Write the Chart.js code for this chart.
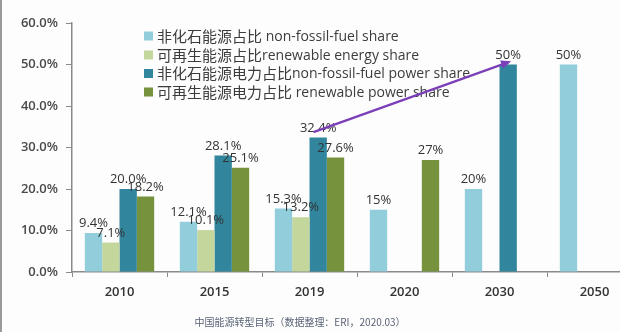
<!DOCTYPE html>
<html>
<head>
<meta charset="utf-8">
<script src="https://cdn.jsdelivr.net/npm/chart.js@4.4.1/dist/chart.umd.min.js"></script>
<style>
  html, body { margin: 0; padding: 0; background: #fdfdfd; }
  #wrap { position: relative; width: 620px; height: 332px; overflow: hidden; }
  #wrap::before { content: ""; position: absolute; left: 0; top: 0; width: 2px; height: 332px; background: #9a9a9a; z-index: 2; }
  #chart { position: absolute; left: 0; top: 0; }
</style>
</head>
<body>
<div id="wrap"><canvas id="chart" width="642" height="332"></canvas></div>
<script>
// Years on the x axis
const years = ["2010", "2015", "2019", "2020", "2030", "2050"];
// digits shown in the value labels for each year
const labelDecimals = [1, 1, 1, 0, 0, 0];

// Shares in percent (null = no bar)
const nonFossilShare = [9.4, 12.1, 15.3, 15, 20, 50];
const renewableShare = [7.1, 10.1, 13.2, null, null, null];
const nonFossilPowerShare = [20.0, 28.1, 32.4, null, 50, null];
const renewablePowerShare = [18.2, 25.1, 27.6, 27, null, null];

const seriesNames = [
  ["非化石能源占比", " non-fossil-fuel share"],
  ["可再生能源占比", "renewable energy share"],
  ["非化石能源电力占比", "non-fossil-fuel power share"],
  ["可再生能源电力占比", " renewable power share"],
];
const seriesColors = ["#92cddc", "#c3d69b", "#31859c", "#76923c"];

const yTicks = [0, 10, 20, 30, 40, 50, 60];

const footnote = "中国能源转型目标（数据整理：ERI，2020.03）";

const latin = "'Open Sans', 'DejaVu Sans', sans-serif";
const cjk = "'Noto Sans CJK SC', sans-serif";

// value labels above each bar
const barLabels = {
  id: "barLabels",
  afterDatasetsDraw(chart) {
    const ctx = chart.ctx;
    ctx.save();
    ctx.font = "13px " + latin;
    ctx.fillStyle = "#333";
    ctx.textAlign = "center";
    ctx.textBaseline = "bottom";
    chart.data.datasets.forEach((ds, di) => {
      chart.getDatasetMeta(di).data.forEach((bar, i) => {
        const v = ds.data[i];
        if (v == null) return;
        ctx.fillText(v.toFixed(labelDecimals[i]) + "%", bar.x, bar.y - 3);
      });
    });
    ctx.restore();
  },
};

// legend block, trend arrow and source note
const overlay = {
  id: "overlay",
  afterDraw(chart) {
    const ctx = chart.ctx;
    const ys = chart.scales.y;
    ctx.save();

    // legend
    const rowY = [36, 55, 73.5, 92];
    seriesNames.forEach((name, i) => {
      ctx.fillStyle = seriesColors[i];
      ctx.fillRect(144, rowY[i] - 4.5, 9, 9);
      ctx.fillStyle = "#3c3c3c";
      ctx.textBaseline = "middle";
      ctx.textAlign = "left";
      ctx.font = "15px " + cjk;
      ctx.fillText(name[0], 157, rowY[i]);
      const w = ctx.measureText(name[0]).width;
      ctx.font = "14px " + latin;
      ctx.fillText(name[1], 157 + w, rowY[i] + 1);
    });

    // arrow from the 2019 power share bar to the 2030 one
    const m = chart.getDatasetMeta(2).data;
    const x0 = m[2].x - m[2].width / 2 + 4;
    const y0 = ys.getPixelForValue(nonFossilPowerShare[2] + 1.3);
    const x1 = m[4].x + 3;
    const y1 = ys.getPixelForValue(nonFossilPowerShare[4] + 0.8);
    ctx.strokeStyle = "#7b3fb8";
    ctx.fillStyle = "#7b3fb8";
    ctx.lineWidth = 2.2;
    ctx.beginPath();
    ctx.moveTo(x0, y0);
    ctx.lineTo(x1 - 6, y1 + 2.2);
    ctx.stroke();
    const a = Math.atan2(y1 - y0, x1 - x0);
    ctx.beginPath();
    ctx.moveTo(x1, y1);
    ctx.lineTo(x1 - 11 * Math.cos(a - 0.4), y1 - 11 * Math.sin(a - 0.4));
    ctx.lineTo(x1 - 11 * Math.cos(a + 0.4), y1 - 11 * Math.sin(a + 0.4));
    ctx.closePath();
    ctx.fill();

    // source
    ctx.fillStyle = "#5a6478";
    ctx.textAlign = "center";
    ctx.textBaseline = "middle";
    ctx.font = "10px " + cjk;
    ctx.fillText(footnote, 300, 322);
    ctx.restore();
  },
};

const datasets = [nonFossilShare, renewableShare, nonFossilPowerShare, renewablePowerShare].map(
  (data, i) => ({
    label: seriesNames[i].join(""),
    data: data,
    backgroundColor: seriesColors[i],
    borderWidth: 0,
    categoryPercentage: 0.73,
    barPercentage: 1.0,
  })
);

new Chart(document.getElementById("chart"), {
  type: "bar",
  data: { labels: years, datasets: datasets },
  options: {
    responsive: false,
    animation: false,
    layout: { padding: { top: 23, right: 0, bottom: 0, left: 0 } },
    plugins: { legend: { display: false }, tooltip: { enabled: false } },
    scales: {
      x: {
        grid: { drawOnChartArea: false, drawTicks: true, tickLength: 5, color: "#8a8a8a" },
        border: { color: "#8a8a8a", width: 1.5 },
        ticks: { color: "#333", padding: 7, font: { family: latin, size: 13, weight: "600" } },
        afterFit(scale) { scale.height = 60; },
      },
      y: {
        min: 0,
        max: 60,
        afterBuildTicks(scale) { scale.ticks = yTicks.map((v) => ({ value: v })); },
        grid: { drawOnChartArea: false, drawTicks: true, tickLength: 6, color: "#8a8a8a" },
        border: { color: "#8a8a8a", width: 1.5 },
        ticks: {
          color: "#4a4a4a",
          padding: 8,
          font: { family: latin, size: 13, weight: "600" },
          callback: (v) => v.toFixed(1) + "%",
        },
        afterFit(scale) { scale.width = 72; },
      },
    },
  },
  plugins: [barLabels, overlay],
});
</script>
</body>
</html>
